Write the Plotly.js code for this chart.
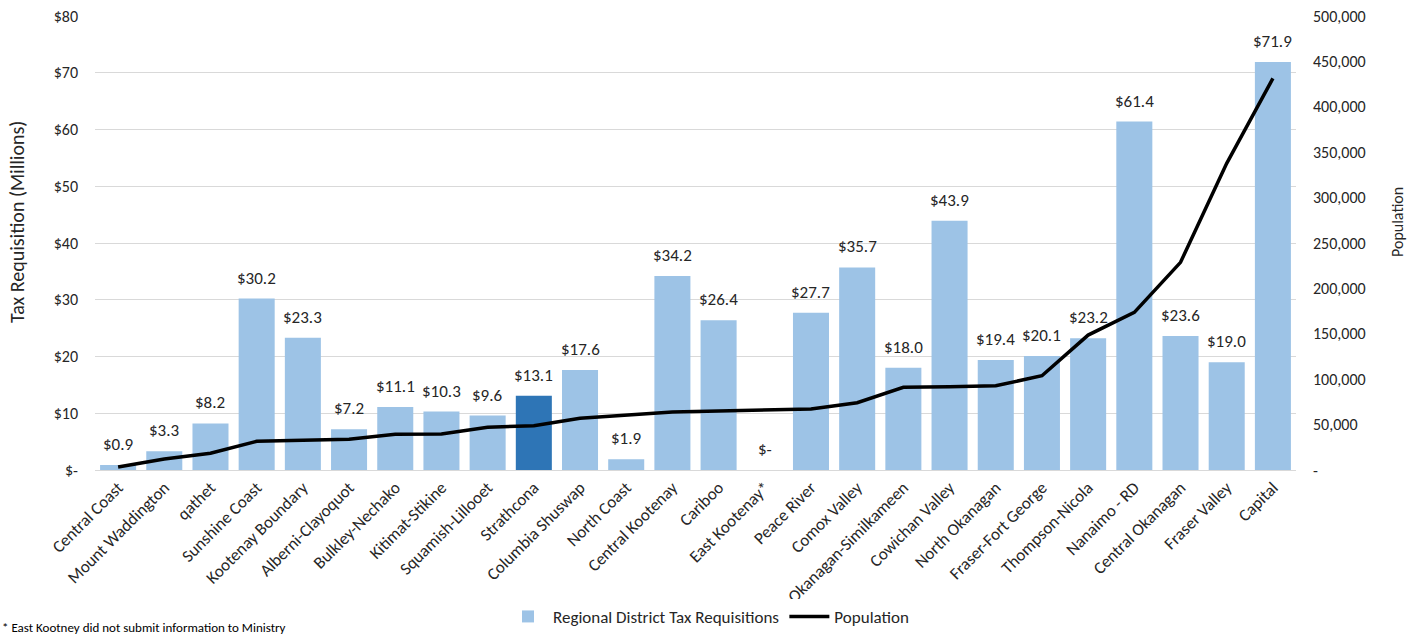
<!DOCTYPE html>
<html>
<head>
<meta charset="utf-8">
<script src="https://cdn.plot.ly/plotly-3.0.1.min.js"></script>
<style>
  html, body { margin: 0; padding: 0; background: #fff; }
  #chart { width: 1417px; height: 634px; }
</style>
</head>
<body>
<div id="chart"></div>
<script>
// Regional districts, ordered by population
const districts = [
  "Central Coast", "Mount Waddington", "qathet", "Sunshine Coast", "Kootenay Boundary",
  "Alberni-Clayoquot", "Bulkley-Nechako", "Kitimat-Stikine", "Squamish-Lillooet", "Strathcona",
  "Columbia Shuswap", "North Coast", "Central Kootenay", "Cariboo", "East Kootenay*",
  "Peace River", "Comox Valley", "Okanagan-Similkameen", "Cowichan Valley", "North Okanagan",
  "Fraser-Fort George", "Thompson-Nicola", "Nanaimo - RD", "Central Okanagan", "Fraser Valley",
  "Capital"
];

// Tax requisition, $ millions
const taxRequisition = [
  0.9, 3.3, 8.2, 30.2, 23.3,
  7.2, 11.1, 10.3, 9.6, 13.1,
  17.6, 1.9, 34.2, 26.4, 0,
  27.7, 35.7, 18.0, 43.9, 19.4,
  20.1, 23.2, 61.4, 23.6, 19.0,
  71.9
];

// Population
const population = [
  3300, 12100, 18400, 31600, 32700,
  33800, 39300, 39600, 47000, 48800,
  56900, 60500, 63900, 65000, 66100,
  67200, 74100, 91000, 91700, 92800,
  103800, 148600, 173600, 228700, 337700,
  431300
];

const highlighted = "Strathcona";

// Axis tick labels
const taxTickVals = [0, 10, 20, 30, 40, 50, 60, 70, 80];
const taxTickText = ["$-", "$10", "$20", "$30", "$40", "$50", "$60", "$70", "$80"];
const popTickVals = [0, 50000, 100000, 150000, 200000, 250000, 300000, 350000, 400000, 450000, 500000];
const popTickText = ["-", "50,000", "100,000", "150,000", "200,000", "250,000", "300,000", "350,000", "400,000", "450,000", "500,000"];

const FONT = "Calibri, Carlito, Lato, 'Open Sans', sans-serif";
const TEXT = "#262626";
const LIGHT_BLUE = "#9DC3E6";
const DARK_BLUE = "#2E75B6";

const barColors = districts.map(d => d === highlighted ? DARK_BLUE : LIGHT_BLUE);
const fmtMoney = v => v === 0 ? "$-" : "$" + v.toFixed(1);

const bars = {
  type: "bar",
  name: "Regional District Tax Requisitions",
  x: districts,
  y: taxRequisition,
  marker: { color: barColors },
  hoverinfo: "x+y"
};

const line = {
  type: "scatter",
  mode: "lines",
  name: "Population",
  x: districts,
  y: population,
  yaxis: "y2",
  line: { color: "#000000", width: 3.5 },
  hoverinfo: "x+y"
};

// Value labels sitting a little above each bar
const valueLabels = districts.map((d, i) => ({
  x: d,
  y: taxRequisition[i],
  xref: "x", yref: "y",
  text: fmtMoney(taxRequisition[i]),
  showarrow: false,
  xanchor: "center", yanchor: "bottom",
  yshift: 8,
  font: { family: FONT, size: 17, color: TEXT }
}));

// Axis titles
const axisTitles = [
  {
    text: "Tax Requisition (Millions)",
    xref: "paper", yref: "paper",
    x: -0.065, y: 0.546,
    xanchor: "center", yanchor: "middle",
    textangle: -90,
    showarrow: false,
    font: { family: FONT, size: 20, color: TEXT }
  },
  {
    text: "Population",
    xref: "paper", yref: "paper",
    x: 1.084, y: 0.546,
    xanchor: "center", yanchor: "middle",
    textangle: -90,
    showarrow: false,
    font: { family: FONT, size: 16, color: TEXT }
  }
];

const footnote = {
  text: "* East Kootney did not submit information to Ministry",
  xref: "paper", yref: "paper",
  x: -0.079, y: -0.348,
  xanchor: "left", yanchor: "middle",
  showarrow: false,
  font: { family: FONT, size: 13, color: "#000000" }
};

const layout = {
  width: 1417,
  height: 634,
  paper_bgcolor: "#ffffff",
  plot_bgcolor: "#ffffff",
  margin: { l: 95, r: 121, t: 16, b: 164 },
  font: { family: FONT, color: TEXT, size: 16 },
  bargap: 0.22,
  showlegend: true,
  legend: {
    orientation: "h",
    xref: "container", yref: "container",
    x: 0.5, xanchor: "center",
    y: 0.027, yanchor: "middle",
    font: { family: FONT, size: 17, color: TEXT },
    itemwidth: 40
  },
  xaxis: {
    type: "category",
    tickangle: -45,
    tickfont: { family: FONT, size: 17, color: TEXT },
    showgrid: false,
    showline: true,
    linecolor: "#D9D9D9",
    linewidth: 1,
    ticks: "",
    automargin: false
  },
  yaxis: {
    range: [0, 80],
    tickvals: taxTickVals,
    ticktext: taxTickText,
    tickfont: { family: FONT, size: 16, color: TEXT },
    showgrid: true,
    gridcolor: "#D9D9D9",
    gridwidth: 1,
    zeroline: false,
    ticks: "",
    ticklabelstandoff: 16,
    automargin: false
  },
  yaxis2: {
    overlaying: "y",
    side: "right",
    range: [0, 500000],
    tickvals: popTickVals,
    ticktext: popTickText,
    tickfont: { family: FONT, size: 16, color: TEXT },
    showgrid: false,
    zeroline: false,
    ticks: "",
    ticklabelstandoff: 16,
    automargin: false
  },
  annotations: valueLabels.concat(axisTitles, [footnote])
};

Plotly.newPlot("chart", [bars, line], layout, { displayModeBar: false, responsive: false });
</script>
</body>
</html>
